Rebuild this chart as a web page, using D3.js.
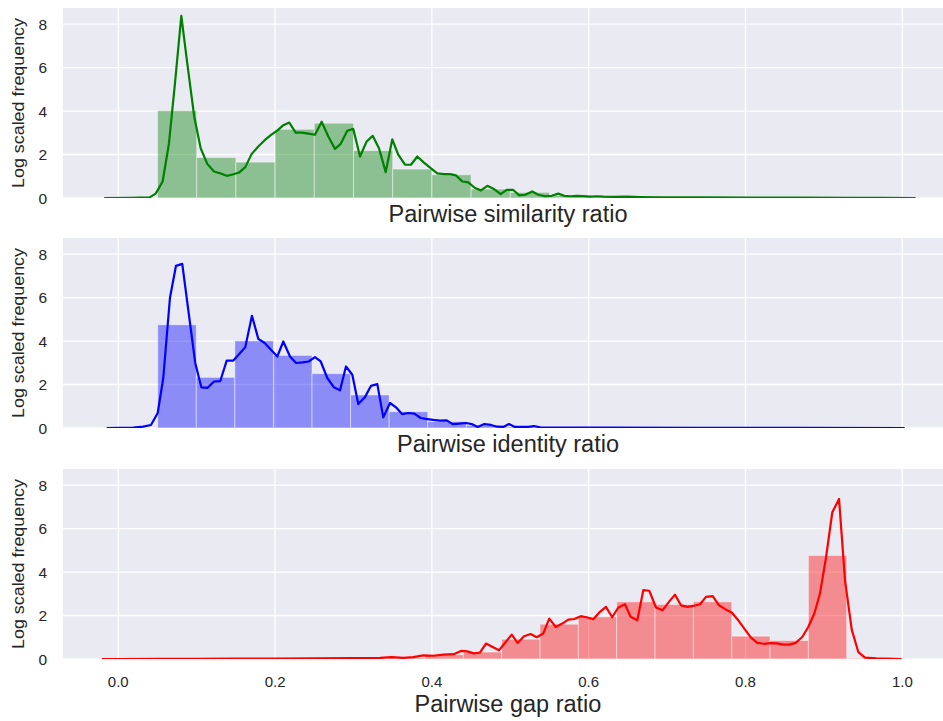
<!DOCTYPE html>
<html>
<head>
<meta charset="utf-8">
<script src="https://cdn.jsdelivr.net/npm/d3@7"></script>
<style>
  body { margin: 0; background: #ffffff; }
  svg { display: block; }
  text { font-family: "Liberation Sans", Arial, Helvetica, sans-serif; fill: #262626; }
</style>
</head>
<body>
<svg id="chart" width="943" height="721"></svg>
<script>
// ---- shared axis settings ----
const xTicks = [0.0, 0.2, 0.4, 0.6, 0.8, 1.0];
const xTickLabels = ["0.0", "0.2", "0.4", "0.6", "0.8", "1.0"];
const yTicks = [0, 2, 4, 6, 8];
const yTickLabels = ["0", "2", "4", "6", "8"];
const yAxisTitle = "Log scaled frequency";
const xAxisTitles = ["Pairwise similarity ratio", "Pairwise identity ratio", "Pairwise gap ratio"];

// ---- similarity ratio: histogram bins and density curve ----
const simBinStart = 0.05;
const simBinWidth = 0.05;
const simBins = [4.02, 1.86, 1.65, 3.16, 3.44, 2.18, 1.33, 1.07, 0.41, 0.26, 0.12, 0.06, 0.04, 0.03, 0.02, 0.02, 0.01, 0.01, 0.01];
const simCurveX = [-0.018, 0.015, 0.040, 0.0477, 0.0566, 0.0647, 0.0723, 0.0804, 0.088, 0.0969, 0.1051, 0.1135, 0.1221, 0.1297, 0.1383, 0.1459, 0.154, 0.162, 0.1702, 0.1786, 0.1871, 0.1957, 0.2028, 0.2105, 0.2181, 0.2263, 0.2347, 0.2423, 0.2509, 0.2594, 0.2679, 0.2764, 0.2837, 0.2921, 0.2997, 0.3083, 0.3168, 0.3245, 0.3325, 0.3411, 0.3495, 0.3571, 0.3657, 0.3733, 0.3814, 0.3899, 0.3985, 0.4069, 0.4154, 0.4231, 0.4307, 0.4388, 0.4464, 0.455, 0.4626, 0.4707, 0.4792, 0.4878, 0.4954, 0.5038, 0.5115, 0.5191, 0.528, 0.5357, 0.5443, 0.5528, 0.5612, 0.5689, 0.577, 0.5847, 0.5931, 0.6017, 0.6102, 0.6186, 0.631, 0.6485, 0.6654, 0.691, 0.742, 0.806, 0.87, 0.933, 0.971, 1.017];
const simCurveY = [0.0, 0.01, 0.03, 0.2, 0.76, 2.52, 5.27, 8.38, 6.19, 3.74, 2.29, 1.57, 1.22, 1.14, 1.02, 1.08, 1.17, 1.42, 2.03, 2.37, 2.67, 2.93, 3.1, 3.35, 3.47, 3.01, 3.01, 2.96, 2.91, 3.51, 2.83, 2.26, 2.49, 3.09, 3.18, 1.91, 2.6, 2.86, 2.29, 1.19, 2.7, 1.99, 1.53, 1.53, 1.91, 1.63, 1.37, 1.13, 1.1, 1.1, 1.04, 0.76, 0.72, 0.46, 0.35, 0.56, 0.41, 0.18, 0.37, 0.37, 0.12, 0.15, 0.3, 0.15, 0.08, 0.1, 0.2, 0.1, 0.08, 0.1, 0.09, 0.06, 0.08, 0.06, 0.05, 0.06, 0.04, 0.03, 0.03, 0.02, 0.02, 0.01, 0.01, 0.0];

// ---- identity ratio ----
const idBinStart = 0.0503;
const idBinWidth = 0.0492;
const idBins = [4.75, 2.33, 4.01, 3.34, 2.5, 1.52, 0.75, 0.3, 0.12, 0.05, 0.03, 0.02, 0.02, 0.01, 0.01, 0.01, 0.01, 0.01, 0.01];
const idCurveX = [-0.0148, 0.0191, 0.0319, 0.0417, 0.0503, 0.0574, 0.0659, 0.0736, 0.0816, 0.0898, 0.0982, 0.1059, 0.114, 0.1221, 0.1301, 0.1383, 0.1467, 0.1543, 0.162, 0.1705, 0.1786, 0.1867, 0.1948, 0.2028, 0.2105, 0.219, 0.2267, 0.2352, 0.2429, 0.2509, 0.2582, 0.2666, 0.2751, 0.2828, 0.2904, 0.2985, 0.3061, 0.3147, 0.3223, 0.3304, 0.338, 0.3466, 0.3542, 0.3619, 0.3699, 0.3776, 0.3857, 0.3941, 0.4018, 0.4103, 0.4189, 0.4265, 0.435, 0.4435, 0.4508, 0.4584, 0.4668, 0.4754, 0.4834, 0.4911, 0.4983, 0.506, 0.5145, 0.523, 0.5302, 0.5379, 0.5634, 0.6144, 0.742, 0.87, 1.003];
const idCurveY = [0.0, 0.02, 0.06, 0.14, 0.69, 2.3, 5.98, 7.46, 7.55, 5.29, 2.99, 1.87, 1.85, 2.14, 2.16, 3.1, 3.1, 3.4, 3.72, 5.16, 4.1, 3.91, 3.6, 3.29, 3.98, 3.29, 2.99, 3.02, 3.06, 3.26, 3.06, 2.3, 1.87, 1.73, 2.83, 2.45, 1.1, 1.42, 1.94, 2.02, 0.49, 1.15, 0.95, 0.64, 0.69, 0.66, 0.46, 0.41, 0.37, 0.34, 0.35, 0.18, 0.2, 0.23, 0.18, 0.05, 0.18, 0.14, 0.06, 0.05, 0.18, 0.05, 0.05, 0.05, 0.09, 0.03, 0.02, 0.02, 0.01, 0.01, 0.0];

// ---- gap ratio ----
const gapBinStart = 0.0;
const gapBinWidth = 0.0489;
const gapBins = [0.01, 0.01, 0.01, 0.02, 0.02, 0.03, 0.04, 0.06, 0.2, 0.32, 0.91, 1.6, 1.94, 2.63, 2.51, 2.63, 1.05, 0.85, 4.76, 0.03];
const gapCurveX = [-0.021, 0.0, 0.05, 0.1, 0.15, 0.2, 0.25, 0.3, 0.3338, 0.3487, 0.3635, 0.3763, 0.389, 0.4018, 0.4145, 0.428, 0.437, 0.445, 0.4537, 0.4614, 0.469, 0.4775, 0.4856, 0.4932, 0.5018, 0.5094, 0.5175, 0.526, 0.5337, 0.542, 0.5497, 0.558, 0.5663, 0.574, 0.5816, 0.5898, 0.5974, 0.6059, 0.6144, 0.622, 0.630, 0.6378, 0.6463, 0.6535, 0.662, 0.6697, 0.6773, 0.6858, 0.6941, 0.7026, 0.710, 0.7177, 0.7263, 0.7334, 0.742, 0.7496, 0.7582, 0.7662, 0.7747, 0.7824, 0.7908, 0.7994, 0.807, 0.815, 0.8236, 0.8321, 0.84, 0.8482, 0.856, 0.864, 0.8724, 0.880, 0.8878, 0.895, 0.9027, 0.9107, 0.9193, 0.9269, 0.9355, 0.9439, 0.9524, 0.967, 0.999];
const gapCurveY = [0.0, 0.0, 0.01, 0.01, 0.02, 0.02, 0.03, 0.04, 0.05, 0.09, 0.05, 0.09, 0.17, 0.15, 0.2, 0.22, 0.37, 0.35, 0.26, 0.3, 0.71, 0.55, 0.4, 0.74, 1.12, 0.74, 1.05, 1.15, 1.0, 1.17, 1.86, 1.47, 1.63, 1.81, 1.84, 1.97, 1.92, 1.83, 2.17, 2.4, 1.92, 2.37, 2.52, 1.94, 1.78, 3.17, 3.14, 2.37, 2.24, 2.64, 2.96, 2.47, 2.4, 2.44, 2.52, 2.86, 2.89, 2.47, 2.28, 2.14, 1.78, 1.35, 0.98, 0.74, 0.7, 0.73, 0.72, 0.66, 0.66, 0.74, 1.01, 1.47, 2.09, 3.01, 4.67, 6.75, 7.36, 3.63, 1.35, 0.32, 0.06, 0.03, 0.0];

// ---- drawing ----
const panels = [
  { title: xAxisTitles[0], color: "#008000", binStart: simBinStart, binWidth: simBinWidth, bins: simBins, cx: simCurveX, cy: simCurveY, top: 8, showTicks: false },
  { title: xAxisTitles[1], color: "#0000ff", binStart: idBinStart, binWidth: idBinWidth, bins: idBins, cx: idCurveX, cy: idCurveY, top: 238, showTicks: false },
  { title: xAxisTitles[2], color: "#ff0000", binStart: gapBinStart, binWidth: gapBinWidth, bins: gapBins, cx: gapCurveX, cy: gapCurveY, top: 469, showTicks: true }
];

const svg = d3.select("#chart");
const plotLeft = 63, plotRight = 943, plotHeight = 190;
const bg = "#eaeaf2";

const x = d3.scaleLinear().domain([-0.0705, 1.0519]).range([plotLeft, plotRight]);

panels.forEach((p, i) => {
  const y = d3.scaleLinear().domain([0, 8.74]).range([p.top + plotHeight, p.top]);
  const g = svg.append("g");

  // clip region for this axes
  const clipId = "clip" + i;
  svg.append("clipPath").attr("id", clipId)
    .append("rect").attr("x", plotLeft).attr("y", p.top)
    .attr("width", plotRight - plotLeft).attr("height", plotHeight);

  g.append("rect").attr("x", plotLeft).attr("y", p.top)
    .attr("width", plotRight - plotLeft).attr("height", plotHeight)
    .attr("fill", bg);

  // grid
  const grid = g.append("g").attr("clip-path", `url(#${clipId})`);
  grid.selectAll("line.h").data(yTicks).join("line")
    .attr("x1", plotLeft).attr("x2", plotRight)
    .attr("y1", d => y(d)).attr("y2", d => y(d))
    .attr("stroke", "#ffffff").attr("stroke-width", 1.3);
  grid.selectAll("line.v").data(xTicks).join("line")
    .attr("x1", d => x(d)).attr("x2", d => x(d))
    .attr("y1", p.top).attr("y2", p.top + plotHeight)
    .attr("stroke", "#ffffff").attr("stroke-width", 1.3);

  // histogram bars
  const bars = p.bins.map((v, k) => ({ x0: p.binStart + k * p.binWidth, x1: p.binStart + (k + 1) * p.binWidth, v }));
  g.append("g").attr("clip-path", `url(#${clipId})`)
    .selectAll("rect").data(bars).join("rect")
    .attr("x", d => x(d.x0)).attr("width", d => x(d.x1) - x(d.x0))
    .attr("y", d => y(d.v)).attr("height", d => y(0) - y(d.v))
    .attr("fill", p.color).attr("fill-opacity", 0.4)
    .attr("stroke", "#ffffff").attr("stroke-opacity", 0.45).attr("stroke-width", 1);

  // density curve
  const pts = p.cx.map((v, k) => [v, p.cy[k]]);
  const line = d3.line().x(d => x(d[0])).y(d => y(d[1]));
  g.append("path").attr("clip-path", `url(#${clipId})`)
    .attr("d", line(pts)).attr("fill", "none")
    .attr("stroke", p.color).attr("stroke-width", 2.2).attr("stroke-linejoin", "round");

  // y tick labels
  g.selectAll("text.yt").data(yTicks).join("text")
    .attr("x", 47).attr("y", d => y(d)).attr("dy", "0.36em")
    .attr("text-anchor", "end").attr("font-size", 15.5)
    .text((d, k) => yTickLabels[k]);

  // y axis title
  g.append("text")
    .attr("transform", `translate(24,${p.top + plotHeight / 2}) rotate(-90)`)
    .attr("text-anchor", "middle").attr("font-size", 16)
    .attr("textLength", 170).attr("lengthAdjust", "spacingAndGlyphs")
    .text(yAxisTitle);

  // x tick labels (bottom axes only)
  let titleY = p.top + plotHeight + 24;
  if (p.showTicks) {
    g.selectAll("text.xt").data(xTicks).join("text")
      .attr("x", d => x(d)).attr("y", p.top + plotHeight + 28)
      .attr("text-anchor", "middle").attr("font-size", 15)
      .text((d, k) => xTickLabels[k]);
    titleY = p.top + plotHeight + 53;
  }

  g.append("text").attr("x", 508).attr("y", titleY)
    .attr("text-anchor", "middle").attr("font-size", 23.5)
    .text(p.title);
});
</script>
</body>
</html>
